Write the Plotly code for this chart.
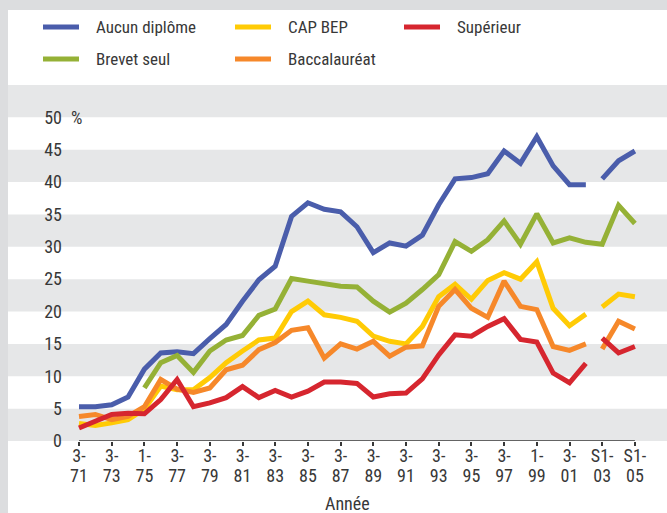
import plotly.graph_objects as go

# ---------------- data ----------------
annees = list(range(1971, 2006))

aucun_diplome = [5.3, 5.3, 5.6, 6.8, 11.1, 13.6, 13.8, 13.5, 15.8, 18.0,
                 21.6, 24.9, 27.0, 34.7, 36.8, 35.8, 35.4, 33.1, 29.1, 30.6,
                 30.1, 31.8, 36.5, 40.5, 40.7, 41.3, 44.8, 42.9, 47.0, 42.5,
                 39.6, 39.6, 40.5, 43.3, 44.8]
brevet_seul = [None, None, None, None, 8.2, 12.1, 13.2, 10.6, 13.9, 15.6,
               16.3, 19.4, 20.4, 25.1, 24.7, 24.3, 23.9, 23.8, 21.6, 19.9,
               21.3, 23.4, 25.7, 30.8, 29.3, 31.1, 34.0, 30.4, 35.1, 30.6,
               31.4, 30.7, 30.4, 36.4, 33.6]
cap_bep = [2.7, 2.4, 2.8, 3.3, 4.9, 8.5, 7.9, 7.9, 9.8, 12.1,
           13.9, 15.6, 15.9, 20.0, 21.6, 19.5, 19.1, 18.5, 16.2, 15.4,
           15.0, 17.7, 22.3, 24.2, 21.9, 24.8, 26.0, 25.0, 27.7, 20.5,
           17.8, 19.6, 20.7, 22.7, 22.3]
baccalaureat = [3.8, 4.1, 3.3, 3.8, 5.3, 9.5, 8.0, 7.5, 8.2, 11.0,
                11.7, 14.1, 15.2, 17.1, 17.5, 12.8, 15.0, 14.2, 15.4, 13.1,
                14.5, 14.7, 20.8, 23.4, 20.5, 19.1, 24.7, 20.8, 20.3, 14.6,
                14.0, 15.0, 14.2, 18.5, 17.3]
superieur = [2.0, 3.1, 4.1, 4.3, 4.2, 6.4, 9.5, 5.3, 5.9, 6.7,
             8.4, 6.7, 7.8, 6.8, 7.7, 9.1, 9.1, 8.9, 6.8, 7.3,
             7.4, 9.6, 13.3, 16.4, 16.2, 17.7, 18.9, 15.7, 15.3, 10.5,
             9.0, 12.0, 15.9, 13.6, 14.6]

# series break (change of survey) between 2002 and 2003
annee_rupture = 2003

tick_annees = list(range(1971, 2006, 2))
tick_haut = ["3-", "3-", "1-", "3-", "3-", "3-", "3-", "3-", "3-",
             "3-", "3-", "3-", "3-", "3-", "1-", "3-", "S1-", "S1-"]
tick_bas = ["71", "73", "75", "77", "79", "81", "83", "85", "87",
            "89", "91", "93", "95", "97", "99", "01", "03", "05"]
y_ticks = [0, 5, 10, 15, 20, 25, 30, 35, 40, 45, 50]

series = [
    ("Aucun diplôme", aucun_diplome, "#4a5dab", True),
    ("Brevet seul", brevet_seul, "#95b136", False),
    ("CAP BEP", cap_bep, "#ffcb05", True),
    ("Baccalauréat", baccalaureat, "#f6882a", True),
    ("Supérieur", superieur, "#d6262f", True),
]
legend_layout = [  # (series index, column, row)
    (0, 0, 0), (2, 1, 0), (4, 2, 0), (1, 0, 1), (3, 1, 1)
]

# ---------------- geometry ----------------
W, H = 667, 513
L, R, T, B = 66, 12, 85, 72
PW, PH = W - L - R, H - T - B
FONT = "Liberation Sans Narrow, Roboto Condensed, DejaVu Sans Condensed, Arial Narrow, sans-serif"
TXT = "#383838"


def px(x):
    return (x - L) / PW


def py(y):
    return (H - B - y) / PH


fig = go.Figure()

for name, vals, color, rupture in series:
    xs, ys = [], []
    for a, v in zip(annees, vals):
        if rupture and a == annee_rupture:
            xs.append(None)
            ys.append(None)
        xs.append(a)
        ys.append(v)
    fig.add_trace(go.Scatter(x=xs, y=ys, mode="lines", name=name,
                             line=dict(color=color, width=5),
                             connectgaps=False, showlegend=False))

# empty trace for the upper row of x labels
fig.add_trace(go.Scatter(x=[], y=[], xaxis="x2", showlegend=False, hoverinfo="skip"))

shapes = []
# white content area inside the grey frame
shapes.append(dict(type="rect", xref="paper", yref="paper", x0=px(8), x1=px(W + 2),
                   y0=py(H + 2), y1=py(10), fillcolor="white", line_width=0, layer="below"))
# grey bands
for y0 in range(0, 55, 10):
    shapes.append(dict(type="rect", xref="paper", yref="y", x0=px(8), x1=px(W + 2),
                       y0=y0, y1=y0 + 5, fillcolor="#e6e7e8", line_width=0, layer="below"))
# x axis line between first and last tick
shapes.append(dict(type="line", xref="x", yref="y", x0=tick_annees[0], x1=tick_annees[-1],
                   y0=0, y1=0, line=dict(color=TXT, width=1.5), layer="above"))

annotations = []
# legend
col_x = [43, 235, 404]
row_y = [27, 59]
for idx, c, r in legend_layout:
    name, _, color, _ = series[idx]
    x0 = col_x[c]
    shapes.append(dict(type="line", xref="paper", yref="paper", x0=px(x0), x1=px(x0 + 36),
                       y0=py(row_y[r]), y1=py(row_y[r]), line=dict(color=color, width=5)))
    annotations.append(dict(text=name, xref="paper", yref="paper", x=px(x0 + 51), y=py(row_y[r]),
                            xanchor="left", yanchor="middle", showarrow=False,
                            font=dict(family=FONT, size=17, color=TXT)))
# percent sign next to 50
annotations.append(dict(text="%", xref="paper", yref="y", x=px(69), y=50, xanchor="left",
                        yanchor="middle", showarrow=False, font=dict(family=FONT, size=18, color=TXT)))
# axis title
annotations.append(dict(text="Année", xref="paper", yref="paper", x=px(347), y=py(503),
                        xanchor="center", yanchor="middle", showarrow=False,
                        font=dict(family=FONT, size=18, color=TXT)))

xrange = [1971 - (79 - L) / 16.35, 1971 + (W - R - 79) / 16.35]

fig.update_layout(
    width=W, height=H,
    margin=dict(l=L, r=R, t=T, b=B, pad=0),
    paper_bgcolor="#dcdddf",
    plot_bgcolor="rgba(0,0,0,0)",
    showlegend=False,
    shapes=shapes,
    annotations=annotations,
    font=dict(family=FONT, size=18, color=TXT),
    xaxis=dict(range=xrange, tickmode="array", tickvals=tick_annees, ticktext=tick_bas,
               ticks="outside", ticklen=4, tickwidth=1.5, tickcolor=TXT,
               showgrid=False, zeroline=False, showline=False,
               ticklabelstandoff=14, tickfont=dict(family=FONT, size=18, color=TXT)),
    xaxis2=dict(range=xrange, overlaying="x", anchor="y", side="bottom",
                tickmode="array", tickvals=tick_annees, ticktext=tick_haut,
                ticks="", showgrid=False, zeroline=False, showline=False,
                ticklabelstandoff=2, tickfont=dict(family=FONT, size=18, color=TXT)),
    yaxis=dict(range=[0, 55], tickmode="array", tickvals=y_ticks,
               ticks="", showgrid=False, zeroline=False, showline=False,
               ticklabelstandoff=3, tickfont=dict(family=FONT, size=18, color=TXT)),
)

fig.write_html("out.html", config={"displayModeBar": False},
               post_script="document.body.style.margin='0';")
